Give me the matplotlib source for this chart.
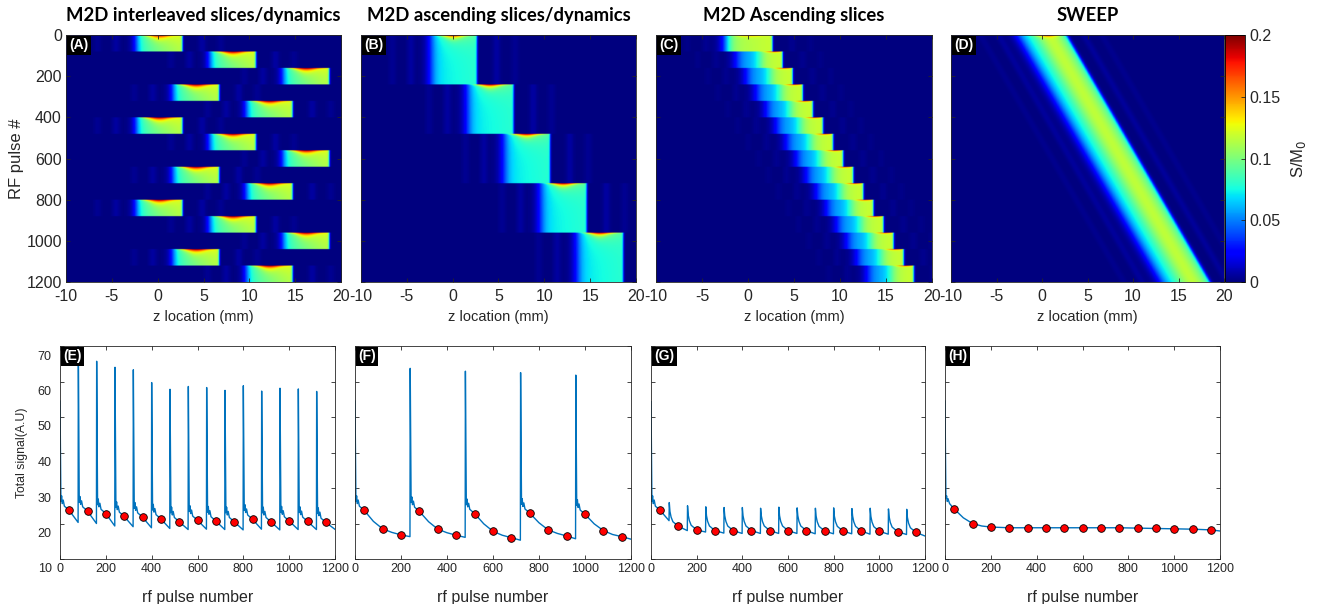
import numpy as np
import matplotlib.pyplot as plt
from matplotlib.transforms import ScaledTranslation

plt.rcParams['font.family'] = ['Liberation Sans', 'DejaVu Sans']
plt.rcParams['axes.unicode_minus'] = False

# ---------------- top row : slice maps ----------------
n_pulses = 1200
z_min, z_max = -10, 20
titles = ['M2D interleaved slices/dynamics', 'M2D ascending slices/dynamics',
          'M2D Ascending slices', 'SWEEP']
top_tags = ['(A)', '(B)', '(C)', '(D)']
bottom_tags = ['(E)', '(F)', '(G)', '(H)']

# slice centre (mm) used during each block of rf pulses
A_block = 80
A_centre = [0, 8, 16, 4, 12, 0, 8, 16, 4, 12, 0, 8, 16, 4, 12]
B_block = 240
B_centre = [0, 4, 8, 12, 16]
C_block = 80
C_centre = [0.0, 1.1, 2.2, 3.3, 4.4, 5.5, 6.6, 7.7, 8.8, 9.9, 11.0, 12.1, 13.2, 14.3, 15.4]
# sweep: slab position at first and last pulse
D_centre = [-0.2, 15.6]

# signal levels (S/M0): body, left-right tilt, fresh top
A_level = [0.074, 0.040, 0.085]
B_level = [0.068, 0.012, 0.10]
C_level = [0.055, 0.012, 0.052]
D_level = [0.066, 0.050, 0.08]

# ---------------- bottom row : total signal ----------------
marker_pulse = list(range(40, 1200, 80))

# shape after each refresh spike (pulse offset, height above first marker)
bump_t = [4, 7, 10, 14, 19]
bump_dy = [2.5, 4.1, 1.9, 2.9, 1.2]

E_peak = [54.5, 70.5, 65.7, 64.0, 63.3, 59.7, 57.8, 58.6, 58.3, 57.5, 58.8, 57.3, 58.1, 57.9, 57.2]
E_marker = [23.7, 23.5, 22.8, 22.0, 21.8, 21.3, 20.5, 20.9, 20.7, 20.5, 21.2, 20.5, 20.7, 20.6, 20.3]
E_end = [20.3, 20.0, 19.3, 19.1, 18.8, 18.6, 18.3, 18.4, 18.3, 18.2, 18.4, 18.2, 18.3, 18.3, 18.4]

F_peak = [54.5, 63.7, 62.9, 62.5, 61.8]
F_marker = [23.7, 18.5, 16.8, 23.4, 18.4, 16.7, 22.8, 17.8, 16.0, 22.9, 18.2, 16.5, 22.6, 18.0, 16.3]
F_t80 = [20.6, 20.5, 19.9, 20.2, 19.9]
F_t160 = [17.5, 17.4, 16.7, 17.2, 16.9]
F_end = [16.3, 16.1, 15.3, 15.7, 15.6]

G_peak = [54.3, 25.9, 25.0, 24.7, 24.5, 24.5, 24.3, 24.6, 24.4, 24.3, 24.4, 24.2, 24.3, 24.1, 24.0]
G_marker = [23.7, 19.2, 18.2, 18.0, 18.0, 18.0, 18.0, 18.0, 18.0, 17.9, 17.9, 17.9, 17.8, 17.7, 17.5]
G_end = [20.8, 18.0, 17.6, 17.3, 17.2, 17.2, 17.2, 17.2, 17.1, 17.1, 17.1, 17.0, 17.0, 16.9, 16.5]
G_spike_t = [3, 8, 16]
G_spike_dy = [4.2, 2.6, 1.3]

H_t = [0, 2, 4, 7, 10, 13, 20, 40, 80, 120, 160, 200, 280, 360, 440, 520, 600,
       680, 760, 840, 920, 1000, 1080, 1160, 1199]
H_val = [54.5, 40.0, 27.0, 27.8, 26.2, 27.0, 25.6, 24.1, 21.6, 20.0, 19.3, 19.0, 18.8, 18.8,
         18.8, 18.8, 18.8, 18.8, 18.8, 18.7, 18.6, 18.5, 18.4, 18.2, 17.9]
H_marker = [24.1, 20.0, 19.0, 18.8, 18.8, 18.8, 18.8, 18.8, 18.8, 18.8, 18.7, 18.6, 18.5, 18.4, 18.2]


z = np.linspace(z_min, z_max, 361)
tt = np.arange(n_pulses)


def profile(dz, left=0.55, right=0.12, lo=-2.4, hi=2.65, side_amp=0.006):
    p = 0.5 * (np.tanh((dz - lo) / left) - np.tanh((dz - hi) / right))
    side = side_amp * (np.exp(-((dz + 4.6) / 0.45) ** 2) + np.exp(-((dz - 4.8) / 0.45) ** 2)) \
        + 0.6 * side_amp * (np.exp(-((dz + 6.6) / 0.45) ** 2) + np.exp(-((dz - 6.8) / 0.45) ** 2))
    return p, side


def gauss(x, w):
    return np.exp(-(x / w) ** 2)


def block_map(centres, block, level, ascending=False, left=0.55):
    img = np.zeros((n_pulses, z.size))
    for k, c in enumerate(centres):
        t = np.arange(block)[:, None]
        dz = z[None, :] - c
        ramp = np.clip((dz + 2.9) / 5.6, 0, 1)
        if ascending:
            p, side = profile(dz, left=0.75, side_amp=0.003)
            if k == 0:
                fresh = np.ones_like(dz)
                top = 0.06 * np.exp(-t / 5) * gauss(dz, 1.5)
            else:
                fresh = 0.5 * (1 + np.tanh((dz - (centres[k - 1] - c + 1.3)) / 0.7))
                top = 0.07 * np.exp(-t / 3) * gauss(dz - 1.6, 0.9)
            val = p * (level[0] + level[1] * ramp + fresh * level[2] + top)
        else:
            p, side = profile(dz, left=left)
            tau = 2 + 9 * gauss(dz, 1.2)
            val = p * (level[0] + level[1] * ramp + 0.025 * np.exp(-t / 40) * gauss(dz - 0.5, 2.2)) \
                + level[2] * np.exp(-t / tau) * gauss(dz, 1.7) * p
        img[k * block:(k + 1) * block] = val + side
    return img


def sweep_map(ends, level):
    c = np.linspace(ends[0], ends[1], n_pulses)[:, None]
    dz = z[None, :] - c
    p, side = profile(dz, left=0.8, right=0.25, lo=-2.5, hi=2.9, side_amp=0.005)
    t = tt[:, None]
    val = p * (level[0] + level[1] * gauss(dz - 1.0, 1.9)) \
        + level[2] * np.exp(-t / 6) * gauss(dz - 0.6, 1.2)
    return val + side


maps = [block_map(A_centre, A_block, A_level),
        block_map(B_centre, B_block, B_level, left=0.7),
        block_map(C_centre, C_block, C_level, ascending=True),
        sweep_map(D_centre, D_level)]


def block_curve(peaks, markers, ends, block, mid_pts=None, spike=None):
    xs, ys = [], []
    per = len(markers) // len(peaks)
    for k in range(len(peaks)):
        s = k * block
        m0 = markers[k * per]
        xs.append(s)
        ys.append(peaks[k])
        if spike is None or k == 0:
            xs += [s + b for b in bump_t]
            ys += [m0 + d for d in bump_dy]
        else:
            xs += [s + b for b in spike[0]]
            ys += [m0 + d for d in spike[1]]
        for j in range(per):
            xs.append(s + 40 + 80 * j)
            ys.append(markers[k * per + j])
            if mid_pts is not None and j < per - 1:
                xs.append(s + 80 + 80 * j)
                ys.append(mid_pts[j][k])
        xs.append(s + block - 1)
        ys.append(ends[k])
    return xs, ys


curves = [block_curve(E_peak, E_marker, E_end, 80),
          block_curve(F_peak, F_marker, F_end, 240, mid_pts=[F_t80, F_t160]),
          block_curve(G_peak, G_marker, G_end, 80, spike=(G_spike_t, G_spike_dy)),
          (H_t, H_val)]
markers = [E_marker, F_marker, G_marker, H_marker]

# ---------------- figure ----------------
W, H = 1320, 604
fig = plt.figure(figsize=(W / 100, H / 100), dpi=100)
axcol = '#262626'


def add_ax(x0, x1, y0, y1):
    return fig.add_axes([x0 / W, 1 - y1 / H, (x1 - x0) / W, (y1 - y0) / H])


def style(ax, size, xpad=3):
    ax.tick_params(direction='in', top=True, right=True, length=3, width=0.6,
                   color=axcol, labelcolor=axcol, labelsize=size, pad=3)
    ax.tick_params(axis='x', pad=xpad)
    for sp in ax.spines.values():
        sp.set_color(axcol)
        sp.set_linewidth(0.6)


def tag(ax, s):
    ax.annotate(s, xy=(0, 1), xycoords='axes fraction', xytext=(2.5, -2.5),
                textcoords='offset points', ha='left', va='top', color='white',
                fontsize=10, fontweight='bold',
                bbox=dict(facecolor='black', edgecolor='none', pad=1.6), zorder=5)


top_x = [(66, 341), (361, 636), (656, 932), (951, 1224)]
bot_x = [(60, 335), (355, 631), (651, 925), (945, 1220)]

for i in range(4):
    ax = add_ax(top_x[i][0], top_x[i][1], 35, 282)
    im = ax.imshow(maps[i], cmap='jet', vmin=0, vmax=0.2, aspect='auto',
                   extent=[z_min, z_max, n_pulses, 0], interpolation='bilinear')
    ax.set_xlim(z_min, z_max)
    ax.set_ylim(n_pulses, 0)
    ax.set_xticks(range(-10, 21, 5))
    ax.set_yticks(range(0, 1201, 200))
    style(ax, 11.5, xpad=5)
    if i > 0:
        ax.set_yticklabels([])
    else:
        ax.set_ylabel('RF pulse #', fontsize=12, color=axcol, labelpad=2)
    ax.set_xlabel('z location (mm)', fontsize=10.5, color=axcol, labelpad=4)
    ax.set_title(titles[i], fontsize=13.3, fontweight='bold', family='Lato', pad=10)
    tag(ax, top_tags[i])

cax = add_ax(1225, 1245, 35, 282)
cb = fig.colorbar(im, cax=cax, ticks=[0, 0.05, 0.1, 0.15, 0.2])
cb.ax.set_yticklabels(['0', '0.05', '0.1', '0.15', '0.2'])
cb.ax.tick_params(direction='in', length=3, width=0.6, color=axcol, labelcolor=axcol,
                  labelsize=11.5)
cb.outline.set_linewidth(0.6)
cb.set_label('S/M$_0$', fontsize=12, color=axcol, labelpad=6)

for i in range(4):
    ax = add_ax(bot_x[i][0], bot_x[i][1], 346, 559)
    xs, ys = curves[i]
    ax.plot(xs, ys, color='#0072BD', lw=1.0)
    ax.plot(marker_pulse, markers[i], 'o', ms=5.5, mfc='red', mec='black', mew=0.6)
    ax.set_xlim(0, 1200)
    ax.set_ylim(10, 70)
    ax.set_xticks(range(0, 1201, 200))
    ax.set_yticks(range(10, 71, 10))
    style(ax, 9)
    if i > 0:
        ax.set_yticklabels([])
    else:
        ax.tick_params(axis='y', pad=6)
        ax.set_ylabel('Total signal(A.U)', fontsize=8.8, color=axcol, labelpad=7)
        off = ScaledTranslation(0, -9 / 100, fig.dpi_scale_trans)
        for lab in ax.get_yticklabels():
            lab.set_transform(lab.get_transform() + off)
    ax.set_xlabel('rf pulse number', fontsize=11.5, color=axcol, labelpad=11)
    tag(ax, bottom_tags[i])

fig.savefig('out.png', dpi=100)
